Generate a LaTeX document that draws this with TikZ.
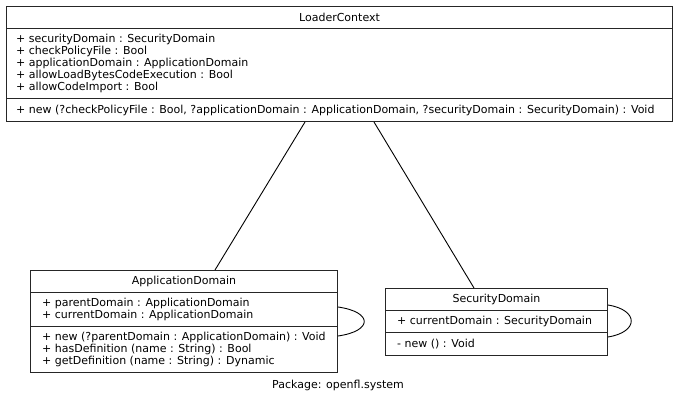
\documentclass[tikz,border=0pt]{standalone}
\usepackage{fontspec}
\setmainfont{DejaVu Sans}
\usetikzlibrary{calc}
\begin{document}
\begin{tikzpicture}[x=1pt,y=-1pt,
  sect/.style={draw=black!85, line width=1pt, rectangle, inner sep=0pt, anchor=north west},
  lbl/.style={font=\fontsize{11}{12}\selectfont, inner sep=0pt, align=left},
  ttl/.style={font=\fontsize{11}{12}\selectfont, inner sep=0pt},
  conn/.style={draw=black, line width=0.9pt}]
\useasboundingbox (0,0) rectangle (680,403);
% LoaderContext
\node[sect, minimum width=666pt, minimum height=22pt] (lct) at (6,6) {};
\node[sect, minimum width=666pt, minimum height=70pt] (lca) at (6,28) {};
\node[sect, minimum width=666pt, minimum height=23pt] (lcm) at (6,98) {};
\node[ttl] (lctx) at (lct.center) {LoaderContext};
\node[lbl, anchor=west] (lcatx) at ($(lca.west)+(10,0)$) {+ securityDomain : SecurityDomain\\+ checkPolicyFile : Bool\\+ applicationDomain : ApplicationDomain\\+ allowLoadBytesCodeExecution : Bool\\+ allowCodeImport : Bool};
\node[lbl, anchor=west] (lcmtx) at ($(lcm.west)+(10,0)$) {+ new (?checkPolicyFile : Bool, ?applicationDomain : ApplicationDomain, ?securityDomain : SecurityDomain) : Void};
% ApplicationDomain
\node[sect, minimum width=307pt, minimum height=22pt] (adt) at (30,270) {};
\node[sect, minimum width=307pt, minimum height=34pt] (ada) at (30,292) {};
\node[sect, minimum width=307pt, minimum height=46pt] (adm) at (30,326) {};
\node[ttl] (adtx) at (adt.center) {ApplicationDomain};
\node[lbl, anchor=west] (adatx) at ($(ada.west)+(12,0)$) {+ parentDomain : ApplicationDomain\\+ currentDomain : ApplicationDomain};
\node[lbl, anchor=west] (admtx) at ($(adm.west)+(12,0)$) {+ new (?parentDomain : ApplicationDomain) : Void\\+ hasDefinition (name : String) : Bool\\+ getDefinition (name : String) : Dynamic};
% SecurityDomain
\node[sect, minimum width=222pt, minimum height=22pt] (sdt) at (385,288) {};
\node[sect, minimum width=222pt, minimum height=22pt] (sda) at (385,310) {};
\node[sect, minimum width=222pt, minimum height=23pt] (sdm) at (385,332) {};
\node[ttl] (sdtx) at (sdt.center) {SecurityDomain};
\node[lbl, anchor=west] (sdatx) at ($(sda.west)+(12,0)$) {+ currentDomain : SecurityDomain};
\node[lbl, anchor=west] (sdmtx) at ($(sdm.west)+(12,0)$) {- new () : Void};
% connectors
\draw[conn] ($(lcm.south west)+(299,0)$) -- ($(adt.north west)+(185,0)$);
\draw[conn] ($(lcm.south west)+(368,0)$) -- ($(sdt.north west)+(89,0)$);
\draw[conn] ($(ada.north east)+(0,15)$) .. controls ($(ada.north east)+(35,20)$) and ($(ada.north east)+(35,39)$) .. ($(ada.north east)+(0,44)$);
\draw[conn] ($(sdt.north east)+(0,17)$) .. controls ($(sdt.north east)+(31,22)$) and ($(sdt.north east)+(31,44)$) .. ($(sdt.north east)+(0,49)$);
% package label
\node[ttl] (pkg) at (338,385) {Package: openfl.system};
\end{tikzpicture}
\end{document}
